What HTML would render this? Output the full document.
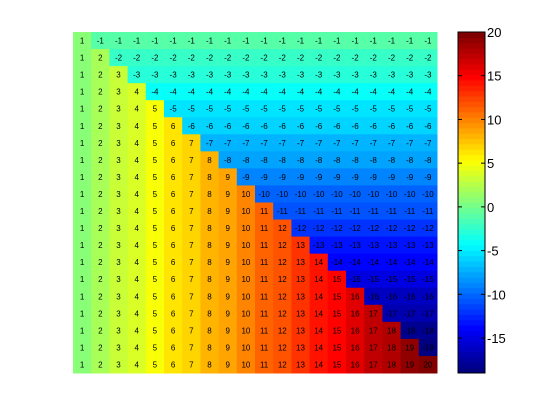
<!DOCTYPE html>
<html><head><meta charset="utf-8"><style>
body{margin:0;background:#fff;width:560px;height:420px;overflow:hidden}
svg{display:block;font-family:"Liberation Sans",sans-serif}
</style></head><body>
<svg id="c" width="560" height="420"></svg>
<script>
const rowCount = 20;
const colCount = 20;
const cmin = -19, cmax = 20;
const cbTicks = [-15,-10,-5,0,5,10,15,20];
// matrix values: M(i,j) = j if j<=i else -i
const values = [];
for (let i=1;i<=rowCount;i++){const r=[];for(let j=1;j<=colCount;j++)r.push(j<=i?j:-i);values.push(r);}
const NS="http://www.w3.org/2000/svg";
const svg=document.getElementById('c');
const X0=73,X1=437,Y0=32,Y1=373,CB0=458,CB1=485;
const cw=(X1-X0)/colCount, ch=(Y1-Y0)/rowCount;
function jet(v){
  let t=(v-cmin)/(cmax-cmin);t=Math.max(0,Math.min(1,t));
  const idx=Math.min(63,Math.floor(t*64));t=idx/63;
  const f=x=>Math.max(0,Math.min(1,x));
  const r=f(Math.min(4*t-1.5,-4*t+4.5)),g=f(Math.min(4*t-0.5,-4*t+3.5)),b=f(Math.min(4*t+0.5,-4*t+2.5));
  return `rgb(${Math.round(r*255)},${Math.round(g*255)},${Math.round(b*255)})`;
}
function el(t,a){const e=document.createElementNS(NS,t);for(const k in a)e.setAttribute(k,a[k]);svg.appendChild(e);return e;}
const yScale=v=>Y1-(v-cmin)/(cmax-cmin)*(Y1-Y0);
for(let i=0;i<rowCount;i++)for(let j=0;j<colCount;j++){
  const v=values[i][j];
  const r=el('rect',{x:X0+j*cw,y:Y0+i*ch,width:cw+0.5,height:ch+0.5,fill:jet(v)});
  
  
  const t=el('text',{x:X0+(j+0.5)*cw,y:Y0+(i+0.5)*ch+3,'text-anchor':'middle','font-size':'8',fill:'#000'});
  t.textContent=v;
  
  
}
// colorbar
for(let k=0;k<64;k++){
  const v0=cmin+k*(cmax-cmin)/64,v1=cmin+(k+1)*(cmax-cmin)/64;
  const r=el('rect',{x:CB0,y:yScale(v1),width:CB1-CB0,height:yScale(v0)-yScale(v1)+0.5,fill:jet((v0+v1)/2)});
  
  
}
const fr=el('rect',{x:CB0,y:Y0,width:CB1-CB0,height:Y1-Y0,fill:'none',stroke:'#000','stroke-width':1});


for(const tv of cbTicks){
  const y=yScale(tv);
  el('line',{x1:CB0,x2:CB0+4,y1:y,y2:y,stroke:'#000'});
  el('line',{x1:CB1-4,x2:CB1,y1:y,y2:y,stroke:'#000'});
  const t=el('text',{x:CB1+2,y:y+5,'font-size':'13',fill:'#000'});
  t.textContent=tv;
  
  
}
</script>
</body></html>
